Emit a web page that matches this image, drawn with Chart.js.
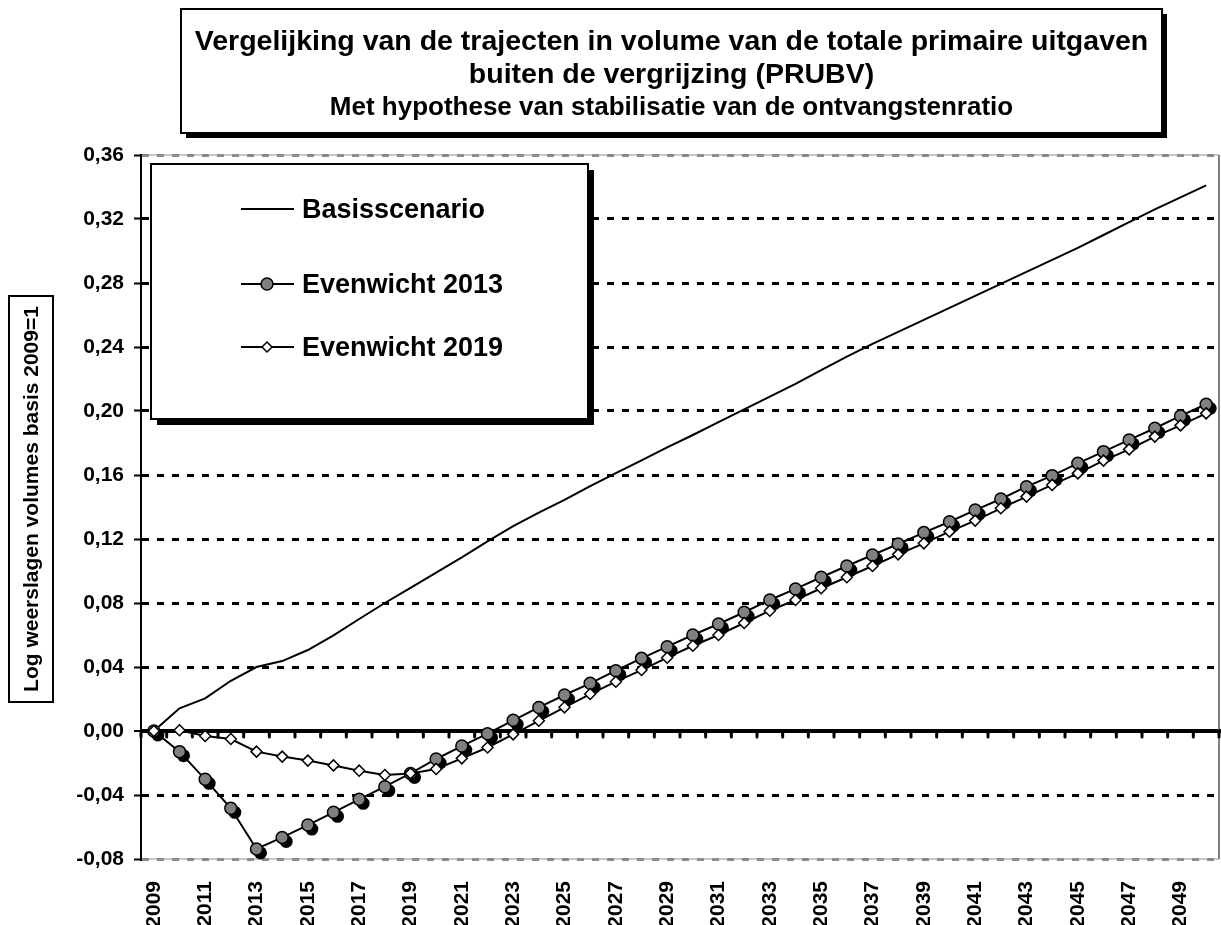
<!DOCTYPE html>
<html>
<head>
<meta charset="utf-8">
<script src="https://cdn.jsdelivr.net/npm/chart.js@4.4.1/dist/chart.umd.min.js"></script>
<style>
  body { margin: 0; background: #fff; overflow: hidden; }
  #wrap { width: 1221px; height: 925px; }
  canvas { display: block; }
</style>
</head>
<body>
<div id="wrap"><canvas id="lineChart" width="1221" height="925"></canvas></div>
<script>
var years = ['2009','2010','2011','2012','2013','2014','2015','2016','2017','2018',
             '2019','2020','2021','2022','2023','2024','2025','2026','2027','2028',
             '2029','2030','2031','2032','2033','2034','2035','2036','2037','2038',
             '2039','2040','2041','2042','2043','2044','2045','2046','2047','2048',
             '2049','2050'];

var basis = [0, 0.0142, 0.0204, 0.0314, 0.0400, 0.0437, 0.0506, 0.0598, 0.0700, 0.0800,
             0.0895, 0.0990, 0.1085, 0.1185, 0.1280, 0.1365, 0.1444, 0.1530, 0.1612, 0.1692,
             0.1772, 0.1850, 0.1930, 0.2010, 0.2090, 0.2170, 0.2255, 0.2340, 0.2420, 0.2495,
             0.2570, 0.2645, 0.2720, 0.2795, 0.2870, 0.2945, 0.3020, 0.3100, 0.3180, 0.3260,
             0.3335, 0.3410];

var evenwicht2013 = [0, -0.0129, -0.0302, -0.0483, -0.0737, -0.0665, -0.0588, -0.0508, -0.0427, -0.0348,
                     -0.0265, -0.0175, -0.0094, -0.0017, 0.0067, 0.0147, 0.0225, 0.0298, 0.0377, 0.0454,
                     0.0527, 0.0600, 0.0669, 0.0742, 0.0819, 0.0888, 0.0961, 0.1031, 0.1100, 0.1169,
                     0.1240, 0.1308, 0.1381, 0.1450, 0.1527, 0.1596, 0.1673, 0.1746, 0.1819, 0.1892,
                     0.1969, 0.2042];

var evenwicht2019 = [0, 0.0005, -0.0031, -0.0050, -0.0129, -0.0160, -0.0185, -0.0215, -0.0248, -0.0275,
                     -0.0265, -0.0237, -0.0171, -0.0103, -0.0021, 0.0064, 0.0148, 0.0231, 0.0308, 0.0381,
                     0.0458, 0.0533, 0.0600, 0.0675, 0.0752, 0.0819, 0.0892, 0.0961, 0.1031, 0.1104,
                     0.1173, 0.1246, 0.1315, 0.1392, 0.1465, 0.1538, 0.1610, 0.1690, 0.1760, 0.1840,
                     0.1910, 0.1985];

var seriesNames = ['Basisscenario', 'Evenwicht 2013', 'Evenwicht 2019'];
var titleLines = ['Vergelijking van de trajecten in volume van de totale primaire uitgaven',
                  'buiten de vergrijzing (PRUBV)',
                  'Met hypothese van stabilisatie van de ontvangstenratio'];
var yTitle = 'Log weerslagen volumes basis 2009=1';
var yMin = -0.08, yMax = 0.36, yStep = 0.04;

var FONT = '"Liberation Sans", Arial, sans-serif';

function isZero(v) { return Math.abs(v) < 1e-9; }
function isEdge(v) { return Math.abs(v - yMin) < 1e-9 || Math.abs(v - yMax) < 1e-9; }

// boxes, legend, shadows and the axis drawn on the zero line
var decorations = {
  id: 'decorations',
  beforeDraw: function(chart) {
    var ctx = chart.ctx, a = chart.chartArea;
    ctx.save();
    ctx.fillStyle = '#fff';
    ctx.fillRect(0, 0, chart.width, chart.height);
    ctx.strokeStyle = '#c8c8c8';
    ctx.lineWidth = 2;
    ctx.beginPath();
    ctx.moveTo(a.left, a.top); ctx.lineTo(a.right, a.top);
    ctx.moveTo(a.left, a.bottom); ctx.lineTo(a.right, a.bottom);
    ctx.stroke();
    ctx.restore();
  },
  beforeDatasetsDraw: function(chart) {
    var ctx = chart.ctx, a = chart.chartArea;
    var xs = chart.scales.x, ys = chart.scales.y;
    var y0 = ys.getPixelForValue(0);
    var w = xs.getPixelForValue(1) - xs.getPixelForValue(0);
    ctx.save();
    // right border
    ctx.strokeStyle = '#808080';
    ctx.lineWidth = 2;
    ctx.beginPath();
    ctx.moveTo(a.right, a.top); ctx.lineTo(a.right, a.bottom);
    ctx.stroke();
    // zero line runs to the edge, tick marks hang under it
    ctx.strokeStyle = '#000';
    ctx.lineWidth = 4;
    ctx.beginPath();
    ctx.moveTo(a.right, y0); ctx.lineTo(chart.width, y0);
    ctx.stroke();
    ctx.lineWidth = 3;
    ctx.lineCap = 'round';
    ctx.beginPath();
    for (var i = 0; i <= years.length; i++) {
      var x = xs.getPixelForValue(0) - w / 2 + i * w;
      ctx.moveTo(x, y0); ctx.lineTo(x, y0 + 6);
    }
    ctx.stroke();
    ctx.restore();
  },
  beforeDatasetDraw: function(chart, args) {
    if (args.index !== 1) return;
    var ctx = chart.ctx;
    ctx.save();
    ctx.fillStyle = '#000';
    args.meta.data.forEach(function(p) {
      ctx.beginPath();
      ctx.arc(p.x + 4, p.y + 4, 6.5, 0, Math.PI * 2);
      ctx.fill();
    });
    ctx.restore();
  },
  afterDraw: function(chart) {
    var ctx = chart.ctx;
    ctx.save();

    // title box
    ctx.fillStyle = '#000';
    ctx.fillRect(186, 14, 981, 124);
    ctx.fillStyle = '#fff';
    ctx.fillRect(181, 9, 981, 124);
    ctx.strokeStyle = '#000';
    ctx.lineWidth = 2;
    ctx.strokeRect(181, 9, 981, 124);
    ctx.fillStyle = '#000';
    ctx.textAlign = 'center';
    ctx.textBaseline = 'middle';
    ctx.font = 'bold 28.5px ' + FONT;
    ctx.fillText(titleLines[0], 671.5, 42);
    ctx.fillText(titleLines[1], 671.5, 75);
    ctx.font = 'bold 26px ' + FONT;
    ctx.fillText(titleLines[2], 671.5, 108);

    // y axis title box
    ctx.strokeRect(9, 296, 44, 406);
    ctx.save();
    ctx.translate(32, 499);
    ctx.rotate(-Math.PI / 2);
    ctx.font = 'bold 21px ' + FONT;
    ctx.fillText(yTitle, 0, 0);
    ctx.restore();

    // legend box
    ctx.fillStyle = '#000';
    ctx.fillRect(157, 170, 437, 255);
    ctx.fillStyle = '#fff';
    ctx.fillRect(151, 164, 437, 255);
    ctx.strokeRect(151, 164, 437, 255);
    var rows = [209, 284, 347];
    ctx.textAlign = 'left';
    ctx.font = 'bold 27px ' + FONT;
    for (var i = 0; i < 3; i++) {
      var y = rows[i];
      ctx.strokeStyle = '#000';
      ctx.lineWidth = 2;
      ctx.beginPath();
      ctx.moveTo(241, y); ctx.lineTo(294, y);
      ctx.stroke();
      if (i === 1) {
        ctx.beginPath();
        ctx.arc(267, y, 6, 0, Math.PI * 2);
        ctx.fillStyle = '#808080';
        ctx.fill();
        ctx.lineWidth = 1.5;
        ctx.stroke();
      } else if (i === 2) {
        ctx.beginPath();
        ctx.moveTo(262, y); ctx.lineTo(267, y - 5); ctx.lineTo(272, y); ctx.lineTo(267, y + 5);
        ctx.closePath();
        ctx.fillStyle = '#fff';
        ctx.fill();
        ctx.lineWidth = 1.5;
        ctx.stroke();
      }
      ctx.fillStyle = '#000';
      ctx.fillText(seriesNames[i], 302, y + 2);
    }
    ctx.restore();
  }
};

var data = {
  labels: years,
  datasets: [{
    label: seriesNames[0],
    data: basis,
    borderColor: '#000',
    borderWidth: 2,
    pointRadius: 0,
    tension: 0,
    order: 3
  }, {
    label: seriesNames[1],
    data: evenwicht2013,
    borderColor: '#000',
    borderWidth: 2,
    pointStyle: 'circle',
    pointRadius: 6,
    pointBackgroundColor: '#808080',
    pointBorderColor: '#000',
    pointBorderWidth: 1.5,
    tension: 0,
    order: 2
  }, {
    label: seriesNames[2],
    data: evenwicht2019,
    borderColor: '#000',
    borderWidth: 2,
    pointStyle: 'rectRot',
    pointRadius: 5.5,
    pointBackgroundColor: '#fff',
    pointBorderColor: '#000',
    pointBorderWidth: 1.5,
    tension: 0,
    order: 1
  }]
};

var options = {
  responsive: false,
  animation: false,
  layout: { autoPadding: false, padding: { top: 155, right: 2, left: 0, bottom: 0 } },
  plugins: {
    legend: { display: false },
    title: { display: false },
    tooltip: { enabled: false }
  },
  scales: {
    x: {
      type: 'category',
      offset: true,
      grid: { display: false },
      border: { display: false },
      ticks: {
        autoSkip: false,
        minRotation: 90,
        maxRotation: 90,
        padding: 14,
        color: '#000',
        font: { family: FONT, size: 21, weight: 'bold' },
        callback: function(v, i) { return i % 2 === 0 ? years[i] : ''; }
      },
      afterFit: function(s) { s.height = 66; s.paddingLeft = 0; s.paddingRight = 0; }
    },
    y: {
      min: yMin,
      max: yMax,
      grid: {
        color: function(c) { return c.tick && isEdge(c.tick.value) ? '#8c8c8c' : '#000'; },
        lineWidth: function(c) { return c.tick && isZero(c.tick.value) ? 4 : 3; },
        drawTicks: true,
        tickLength: 7,
        tickColor: '#000',
        tickWidth: 2,
        tickBorderDash: []
      },
      border: {
        display: true,
        color: '#000',
        width: 2,
        dash: function(c) { return c.tick && isZero(c.tick.value) ? [] : [7, 8]; }
      },
      ticks: {
        stepSize: yStep,
        padding: 10,
        color: '#000',
        font: { family: FONT, size: 21, weight: 'bold' },
        callback: function(v) { return v.toFixed(2).replace('.', ','); }
      },
      afterFit: function(s) { s.width = 141; }
    }
  }
};

var ctx = document.getElementById('lineChart').getContext('2d');
var myLineChart = new Chart(ctx, {
  type: 'line',
  data: data,
  options: options,
  plugins: [decorations]
});
</script>
</body>
</html>
